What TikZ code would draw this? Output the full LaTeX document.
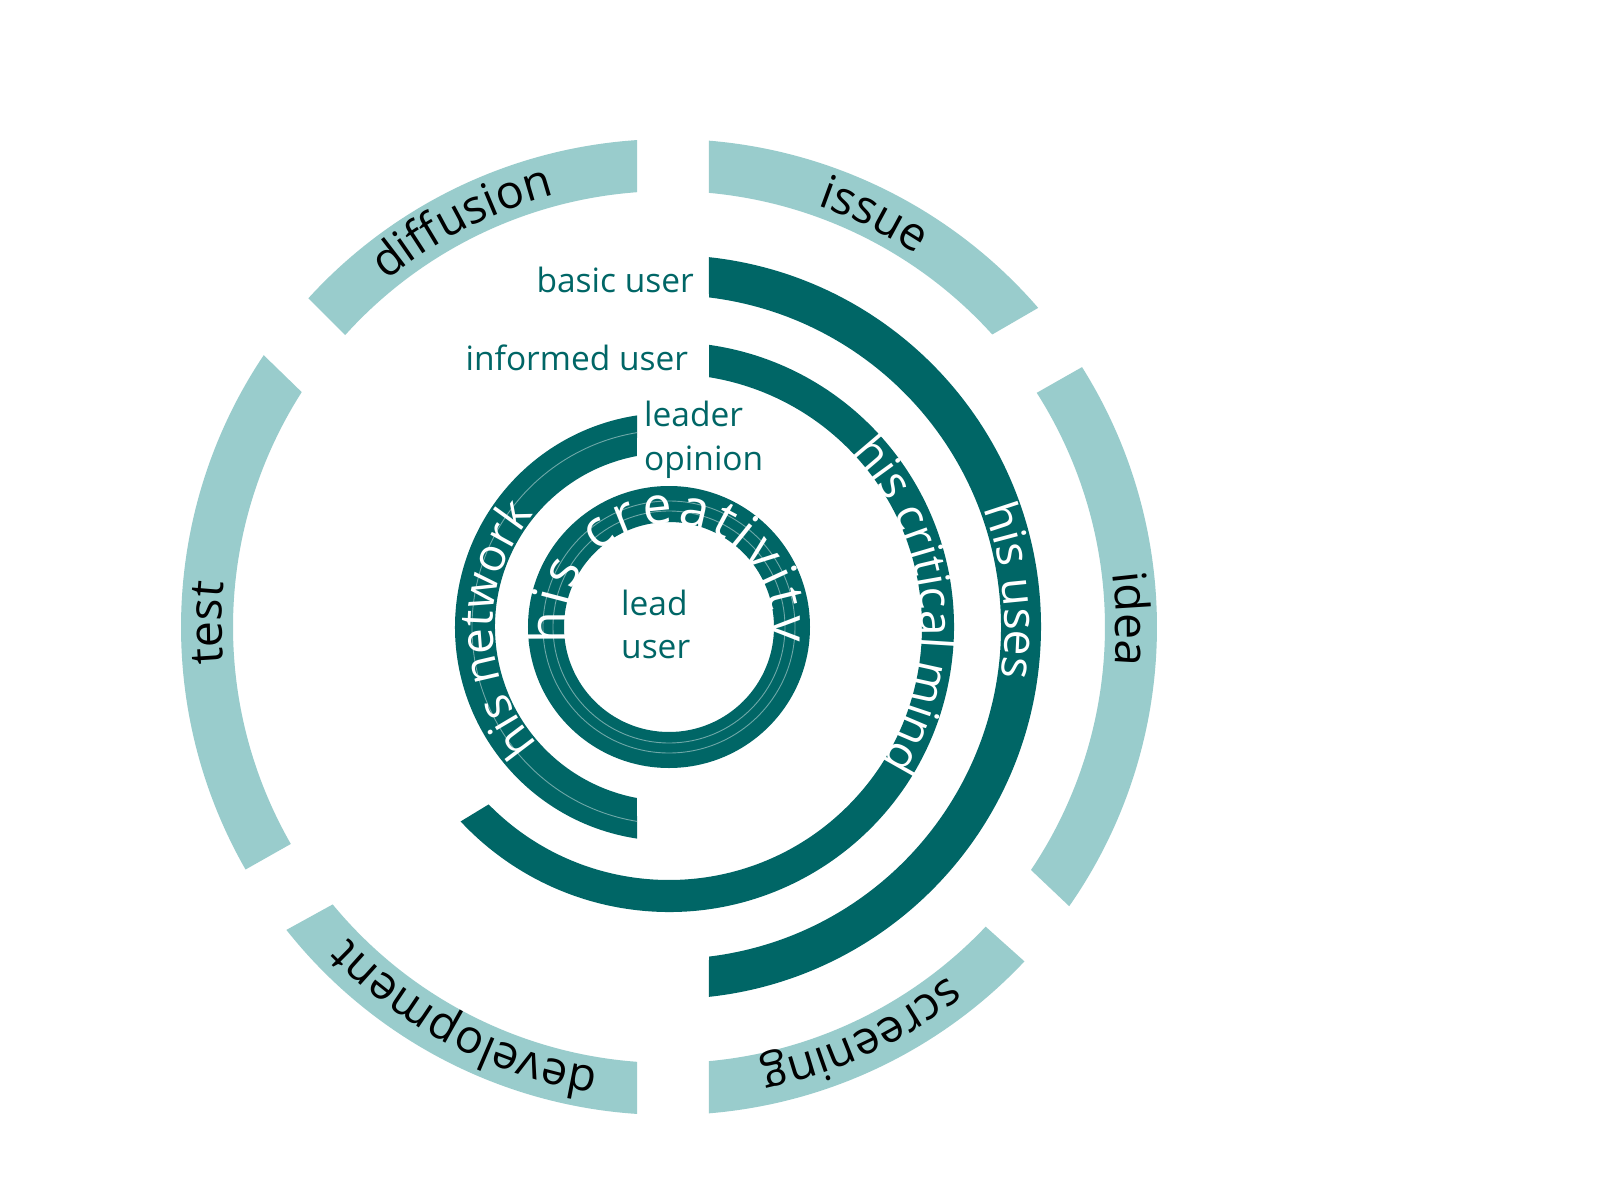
\documentclass[tikz,border=0pt]{standalone}
\usepackage{fontspec}
\setmainfont{Open Sans}
\usetikzlibrary{decorations.text}
\definecolor{lightteal}{RGB}{153,204,204}
\definecolor{darkteal}{RGB}{0,102,102}
\definecolor{thinteal}{RGB}{110,168,168}
% color, outer start, outer end, inner start, inner end, outer r, inner r
\newcommand\ringpart[7]{%
  \fill[#1] (#2:#6pt) arc[start angle=#2, end angle=#3, radius=#6pt]
    -- (#5:#7pt) arc[start angle=#5, end angle=#4, radius=#7pt] -- cycle;}
\newcommand\outerfont{\fontsize{46.5}{46.5}\selectfont\color{black}}
\newcommand\arcfont{\fontsize{46}{46}\selectfont\color{white}}
\newcommand\creafont{\fontsize{52}{52}\selectfont\color{white}}
\tikzset{
  outerlbl/.style={decorate, decoration={text along path, text align=center, text={|\outerfont|#1}}},
  arclbl/.style={decorate, decoration={text along path, text align=center, text={|\arcfont|#1}}},
  lbl/.style={font=\fontsize{33.5}{40}\selectfont, text=darkteal, inner sep=0pt},
  thinline/.style={draw=thinteal, line width=0.9pt}
}
\begin{document}
\begin{tikzpicture}
\useasboundingbox (-669pt,-573pt) rectangle (931pt,627pt);
\fill[white] (-669pt,-573pt) rectangle (931pt,627pt);
\coordinate (c) at (0,0);
% outer segments
\ringpart{lightteal}{85.30}{40.84}{84.74}{42.14}{488}{436}
\ringpart{lightteal}{32.18}{-34.90}{32.49}{-33.87}{488}{436}
\ringpart{lightteal}{-43.25}{-85.30}{-43.42}{-84.74}{488}{436}
\ringpart{lightteal}{266.24}{218.37}{265.79}{219.52}{488}{436}
\ringpart{lightteal}{209.80}{146.15}{209.84}{147.40}{488}{436}
\ringpart{lightteal}{137.64}{93.76}{137.96}{94.21}{488}{436}
% dark arcs
\ringpart{darkteal}{83.83}{-83.83}{83.08}{-83.08}{372}{332}
\ringpart{darkteal}{81.93}{-136.98}{80.90}{-135.47}{285}{253}
\ringpart{darkteal}{261.40}{98.60}{259.40}{100.60}{214}{174}
\fill[darkteal, even odd rule] (c) circle[radius=141pt] (c) circle[radius=105pt];
% thin lines
\draw[thinline] (260.65:197pt) arc[start angle=260.65, end angle=99.35, radius=197pt];
\draw[thinline] (c) circle[radius=116pt];
\draw[thinline] (c) circle[radius=126pt];
% outer labels
\path[outerlbl=issue] (85:447pt) arc[start angle=85, end angle=42, radius=447pt];
\path[outerlbl=idea] (33:447pt) arc[start angle=33, end angle=-31, radius=447pt];
\path[outerlbl=screening] (-44.3:447pt) arc[start angle=-44.3, end angle=-85.3, radius=447pt];
\path[outerlbl=development] (266:447pt) arc[start angle=266, end angle=219, radius=447pt];
\path[outerlbl=test] (211:447pt) arc[start angle=211, end angle=148, radius=447pt];
\path[outerlbl=diffusion] (139:447pt) arc[start angle=139, end angle=95, radius=447pt];
% arc labels
\path[arclbl=his uses] (41:336pt) arc[start angle=41, end angle=-29, radius=336pt];
\path[arclbl=his critical mind] (80:252pt) arc[start angle=80, end angle=-69, radius=252pt];
\path[arclbl=his network] (261:176pt) arc[start angle=261, end angle=101, radius=176pt];
\path[decorate, decoration={text along path, text align=fit to path, text={|\creafont|his creativity}}]
  (189:103pt) arc[start angle=189, end angle=-8, radius=103pt];
% plain labels
\node[lbl, anchor=base east] (basic) at (25pt,334.7pt) {basic user};
\node[lbl, anchor=base east] (informed) at (19.3pt,257pt) {informed user};
\node[lbl, anchor=base west] (leader) at (-25pt,200.3pt) {leader};
\node[lbl, anchor=base west] (opinion) at (-25pt,157pt) {opinion};
\node[lbl, anchor=base west] (lead) at (-48pt,12pt) {lead};
\node[lbl, anchor=base west] (user) at (-48pt,-31.3pt) {user};
\end{tikzpicture}
\end{document}
